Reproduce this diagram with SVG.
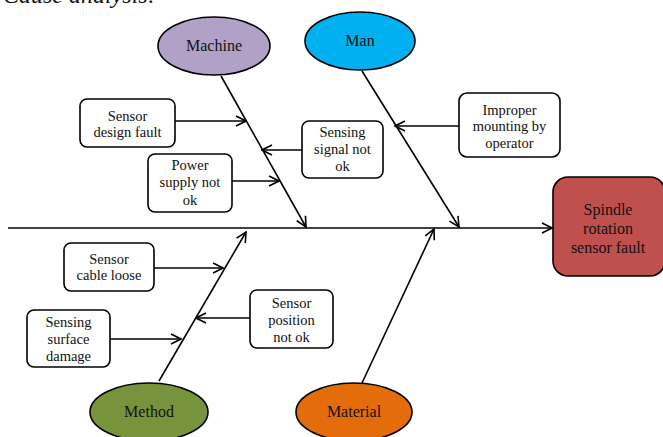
<svg xmlns="http://www.w3.org/2000/svg" width="663" height="437" viewBox="0 0 663 437">
<style>
text{font-family:"Liberation Serif","Times New Roman",serif;fill:#111;text-anchor:middle}
.box{fill:#fff;stroke:#000;stroke-width:1.6}
.bt{font-size:14.5px}
.et{font-size:16px}
.ell{stroke:#000;stroke-width:1.6}
.ln{stroke:#000;stroke-width:1.6;fill:none;marker-end:url(#ah)}
</style>
<defs>
<marker id="ah" viewBox="0 0 12 12" refX="11" refY="6" markerWidth="12" markerHeight="12" markerUnits="userSpaceOnUse" orient="auto">
<polyline points="1,1 11,6 1,11" fill="none" stroke="#000" stroke-width="1.6"/>
</marker>
</defs>
<rect width="663" height="437" fill="#fff"/>
<text x="3" y="3" font-family="Liberation Serif, serif" style="font-size:24px;font-style:italic;text-anchor:start">Cause analysis:</text>

<g id="connectors">
<line class="ln" x1="8" y1="228" x2="552" y2="228"/>
<line class="ln" x1="221" y1="76" x2="306" y2="227"/>
<line class="ln" x1="362" y1="71" x2="459" y2="227"/>
<line class="ln" x1="159" y1="381" x2="246" y2="232"/>
<line class="ln" x1="362" y1="383" x2="434" y2="229"/>
<line class="ln" x1="175" y1="121" x2="246" y2="121"/>
<line class="ln" x1="232" y1="181" x2="279" y2="181"/>
<line class="ln" x1="302" y1="150" x2="262" y2="150"/>
<line class="ln" x1="459" y1="126" x2="395" y2="126"/>
<line class="ln" x1="154" y1="268" x2="223" y2="268"/>
<line class="ln" x1="110" y1="339" x2="181" y2="339"/>
<line class="ln" x1="250" y1="318" x2="196" y2="318"/>
</g>

<g id="machine" font-family="Liberation Serif, serif"><ellipse class="ell" cx="214" cy="46" rx="56" ry="29" fill="#B2A1C7"/><text class="et" x="214" y="51">Machine</text></g>
<g id="man" font-family="Liberation Serif, serif"><ellipse class="ell" cx="360" cy="41" rx="55" ry="29" fill="#00B0F0"/><text class="et" x="360" y="46">Man</text></g>
<g id="method" font-family="Liberation Serif, serif"><ellipse class="ell" cx="149" cy="412" rx="59" ry="29" fill="#77933C"/><text class="et" x="149" y="417">Method</text></g>
<g id="material" font-family="Liberation Serif, serif"><ellipse class="ell" cx="354" cy="412" rx="58" ry="29" fill="#E46C0A"/><text class="et" x="354" y="417">Material</text></g>

<g id="effect"><rect x="553" y="177" width="112" height="99" rx="15" fill="#C0504D" stroke="#000" stroke-width="1.6"/>
<text style="font-size:16px" x="608" y="215">Spindle</text><text style="font-size:16px" x="608" y="234">rotation</text><text style="font-size:16px" x="608" y="253">sensor fault</text></g>

<g id="sensor-design-fault"><rect class="box" x="80" y="99" width="95" height="48" rx="7"/>
<text class="bt" x="127.5" y="121">Sensor</text><text class="bt" x="127.5" y="137">design fault</text></g>
<g id="power-supply"><rect class="box" x="148" y="154" width="84" height="58" rx="7"/>
<text class="bt" x="190" y="170">Power</text><text class="bt" x="190" y="187">supply not</text><text class="bt" x="190" y="205">ok</text></g>
<g id="sensing-signal"><rect class="box" x="302" y="121" width="81" height="57" rx="7"/>
<text class="bt" x="342.5" y="137">Sensing</text><text class="bt" x="342.5" y="154">signal not</text><text class="bt" x="342.5" y="171">ok</text></g>
<g id="improper-mounting"><rect class="box" x="459" y="93" width="101" height="64" rx="8"/>
<text class="bt" x="509.5" y="115">Improper</text><text class="bt" x="509.5" y="131">mounting by</text><text class="bt" x="509.5" y="148">operator</text></g>
<g id="sensor-cable-loose"><rect class="box" x="64" y="243" width="90" height="48" rx="7"/>
<text class="bt" x="109" y="264">Sensor</text><text class="bt" x="109" y="280">cable loose</text></g>
<g id="sensing-surface"><rect class="box" x="27" y="310" width="83" height="57" rx="7"/>
<text class="bt" x="68.5" y="327">Sensing</text><text class="bt" x="68.5" y="344">surface</text><text class="bt" x="68.5" y="361">damage</text></g>
<g id="sensor-position"><rect class="box" x="250" y="290" width="83" height="58" rx="7"/>
<text class="bt" x="291.5" y="308">Sensor</text><text class="bt" x="291.5" y="325">position</text><text class="bt" x="291.5" y="342">not ok</text></g>
</svg>
